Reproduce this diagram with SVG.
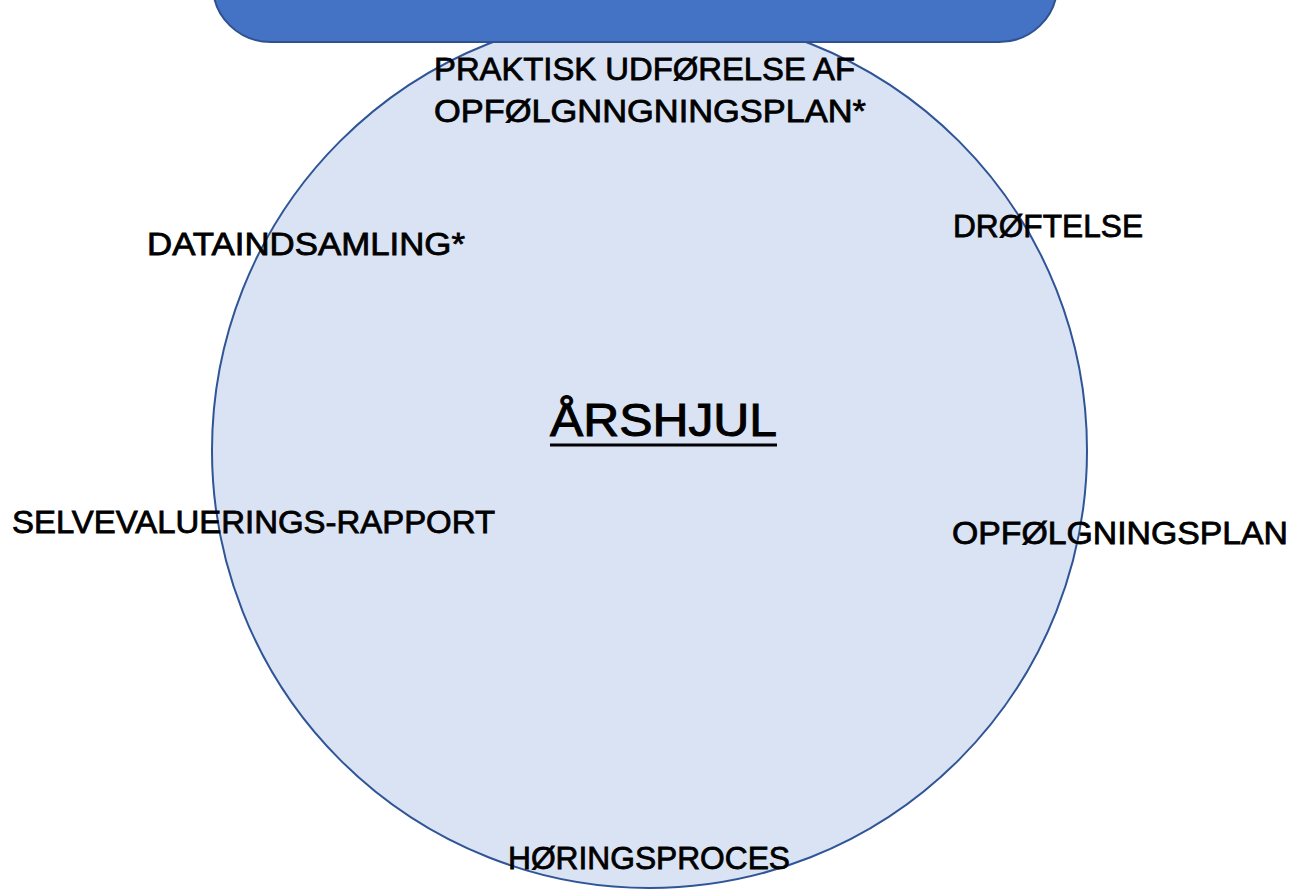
<svg xmlns="http://www.w3.org/2000/svg" width="1293" height="890" viewBox="0 0 1293 890">
<style>
.lbl{font-family:"Liberation Sans",Arial,sans-serif;font-size:32px;fill:#000;stroke:#000;stroke-width:0.8px}
.title{font-family:"Liberation Sans",Arial,sans-serif;font-size:46px;fill:#000;stroke:#000;stroke-width:1px}
</style>
<rect width="1293" height="890" fill="#fff"/>
<g id="wheel">
<circle cx="649.5" cy="450.5" r="437.5" fill="#DAE3F3" stroke="#2F5597" stroke-width="2"/>
</g>
<g id="header">
<rect x="213" y="-70" width="844" height="112" rx="58" ry="58" fill="#4472C4" stroke="#2F528F" stroke-width="2"/>
</g>
<g id="title">
<text class="title" x="550" y="436" textLength="227" lengthAdjust="spacingAndGlyphs">ÅRSHJUL</text>
<rect x="550" y="443.5" width="227" height="3" fill="#000"/>
</g>
<g id="praktisk">
<text class="lbl" x="434" y="80" textLength="421" lengthAdjust="spacingAndGlyphs">PRAKTISK UDFØRELSE AF</text>
<text class="lbl" x="434" y="122" textLength="432" lengthAdjust="spacingAndGlyphs">OPFØLGNNGNINGSPLAN*</text>
</g>
<g id="droeftelse">
<text class="lbl" x="953" y="237" textLength="190" lengthAdjust="spacingAndGlyphs">DRØFTELSE</text>
</g>
<g id="opfoelgningsplan">
<text class="lbl" x="952" y="544" textLength="336" lengthAdjust="spacingAndGlyphs">OPFØLGNINGSPLAN</text>
</g>
<g id="hoeringsproces">
<text class="lbl" x="508" y="869" textLength="282" lengthAdjust="spacingAndGlyphs">HØRINGSPROCES</text>
</g>
<g id="selvevaluering">
<text class="lbl" x="12" y="533" textLength="483" lengthAdjust="spacingAndGlyphs">SELVEVALUERINGS-RAPPORT</text>
</g>
<g id="dataindsamling">
<text class="lbl" x="147" y="255" textLength="318" lengthAdjust="spacingAndGlyphs">DATAINDSAMLING*</text>
</g>
<g id="connectors"></g>
</svg>
